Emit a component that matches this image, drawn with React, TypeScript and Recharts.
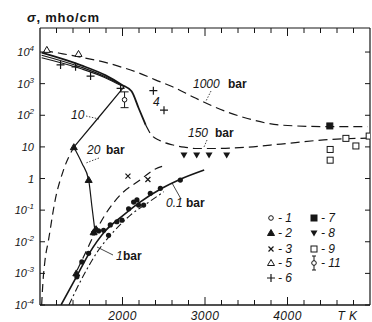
import React from "react"
import { ComposedChart, Line, Scatter, XAxis, YAxis, ErrorBar, ReferenceLine } from "recharts"

// T in K, sigma in mho/cm
const t1000bar = [1050, 1225, 1507, 1791, 1993, 2195, 2398, 2600, 2884, 3110, 3515, 3919, 4444, 4970]
const s1000bar = [11200, 9300, 6800, 4700, 3300, 2200, 1320, 810, 350, 186, 79, 49, 44, 44]

const t150bar = [1020, 1500, 1790, 1990, 2110, 2195, 2280]
const s150bar = [9550, 3800, 1860, 930, 575, 170, 50]
const t150barHot = [2280, 2350, 2450, 2600, 2750, 2900, 3100, 3300, 3520, 3920, 4440, 4970]
const s150barHot = [50, 24, 16, 11.7, 9.8, 8.9, 8.9, 9.1, 9.8, 12.3, 16.6, 19]

const tUpper10 = [1020, 1500, 1790, 1990, 2020]
const sUpper10 = [7940, 3310, 1660, 890, 800]
const t10bar = [2020, 1710, 1410]
const s10bar = [800, 85, 9.8]
const tUpper20 = [1020, 1500, 1790, 1990]
const sUpper20 = [6600, 2950, 1550, 850]

const t20barCold = [1020, 1035, 1060, 1103, 1184, 1285, 1410]
const s20barCold = [0.0001, 0.0005, 0.0025, 0.0112, 0.209, 1.86, 9.8]
const t20barDrop = [1410, 1510, 1590, 1630, 1670]
const s20barDrop = [9.8, 3.0, 0.89, 0.126, 0.018]

const t01bar = [1255, 1443, 1589, 1791, 1993, 2195, 2478, 2701, 2990]
const s01bar = [0.0001, 0.00079, 0.004, 0.022, 0.063, 0.166, 0.49, 0.95, 1.86]
const tDashUp = [1450, 1560, 1670, 1800, 1993, 2195, 2398, 2500]
const sDashUp = [0.00126, 0.005, 0.02, 0.079, 0.34, 0.83, 2.0, 2.5]
const t1bar = [1350, 1500, 1700, 1900, 2100, 2300, 2500]
const s1bar = [0.0001, 0.00063, 0.005, 0.022, 0.071, 0.166, 0.38]

// measured points
const tDots = [1447, 1507, 1589, 1649, 1710, 1771, 1831, 1852, 1932, 1993, 2074, 2135, 2175, 2195, 2256, 2337, 2459, 2701]
const sDots = [0.00078, 0.0023, 0.0043, 0.019, 0.022, 0.023, 0.016, 0.034, 0.043, 0.048, 0.11, 0.18, 0.21, 0.145, 0.145, 0.34, 0.49, 0.89]
const tSym2 = [1410, 1590, 1650, 1680, 1440]
const sSym2 = [9.8, 0.9, 0.02, 0.025, 0.001]
const tSym3 = [2066, 2308]
const sSym3 = [1.19, 0.93]
const tSym5 = [1083, 1467]
const sSym5 = [11700, 8700]
const tSym6 = [1249, 1431, 1613, 1977, 2374, 2503]
const sSym6 = [3900, 3400, 1740, 710, 600, 145]
const tSym7 = [4513]
const sSym7 = [46]
const tSym8 = [2745, 2899, 3049, 3263]
const sSym8 = [5.5, 5.5, 5.5, 5.5]
const tSym9 = [4517, 4517, 4708, 4829, 4990]
const sSym9 = [8.3, 3.8, 18.6, 10.7, 22]
const tSym11 = [2025]
const sSym11 = [310]
const errSym11 = [[136, 240]]

const xTicks = [1200, 1400, 1600, 1800, 2000, 2200, 2400, 2600, 2800, 3000, 3200, 3400, 3600, 3800, 4000, 4200, 4400, 4600, 4800]
const xLabels: Record<number, string> = { 2000: "2000", 3000: "3000", 4000: "4000", 4800: "T K" }
const yTicks = [1e-4, 1e-3, 1e-2, 1e-1, 1, 10, 100, 1e3, 1e4]
const Y_MAX = 10 ** 4.76

const pts = (t: number[], s: number[]) => t.map((v, i) => ({ t: v, s: s[i] }))

const INK = "#161616"
const FONT = "'Liberation Sans', Arial, sans-serif"
const W = 372
const H = 322
const PL = 40
const PR = 370
const PT = 28
const PB = 305

function XTick(props: any) {
  const { x, payload } = props
  const v = payload.value
  const len = v % 1000 === 0 ? 8 : 5
  const label = xLabels[v]
  return (
    <g>
      <line x1={x} x2={x} y1={PB} y2={PB - len} stroke={INK} />
      <line x1={x} x2={x} y1={PT} y2={PT + len} stroke={INK} />
      {label && (
        <text x={v === 4800 ? x - 6 : x} y={PB + 15} textAnchor="middle" fontSize={12}
          fontStyle="italic" fontFamily={FONT} fill={INK} letterSpacing={0.5}>
          {label}
        </text>
      )}
    </g>
  )
}

function YTick(props: any) {
  const { x, y, payload } = props
  const e = Math.round(Math.log10(payload.value))
  return (
    <g>
      <line x1={PL} x2={PL + 5} y1={y} y2={y} stroke={INK} />
      <line x1={PR} x2={PR - 5} y1={y} y2={y} stroke={INK} />
      <text x={x} y={y + 4} textAnchor="end" fontSize={11} fontStyle="italic" fontFamily={FONT} fill={INK}>
        {e === 0 ? "1" : e === 1 ? "10" : (
          <>
            <tspan>10</tspan>
            <tspan dy={-5} fontSize={8}>{e < 0 ? "-" + -e : e}</tspan>
          </>
        )}
      </text>
    </g>
  )
}

// marker shapes
const Dot = ({ cx, cy }: any) => <circle cx={cx} cy={cy} r={2.6} fill={INK} />
const OCircle = ({ cx, cy }: any) => <circle cx={cx} cy={cy} r={2.3} fill="#fff" stroke={INK} strokeWidth={1} />
const TriUp = ({ cx, cy, open }: any) => (
  <path d={`M${cx},${cy - 3.5}L${cx + 3.5},${cy + 2.5}L${cx - 3.5},${cy + 2.5}Z`}
    fill={open ? "#fff" : INK} stroke={INK} strokeWidth={1} />
)
const TriDown = ({ cx, cy }: any) => (
  <path d={`M${cx},${cy + 3.5}L${cx + 3.5},${cy - 2.5}L${cx - 3.5},${cy - 2.5}Z`} fill={INK} />
)
const XMark = ({ cx, cy }: any) => (
  <path d={`M${cx - 2.5},${cy - 2.5}L${cx + 2.5},${cy + 2.5}M${cx + 2.5},${cy - 2.5}L${cx - 2.5},${cy + 2.5}`} stroke={INK} strokeWidth={1.2} />
)
const Plus = ({ cx, cy }: any) => (
  <path d={`M${cx - 4},${cy}L${cx + 4},${cy}M${cx},${cy - 4}L${cx},${cy + 4}`} stroke={INK} strokeWidth={1.2} />
)
const Sq = ({ cx, cy, open }: any) => (
  <rect x={cx - 3} y={cy - 3} width={6} height={6} fill={open ? "#fff" : INK} stroke={INK} strokeWidth={1} />
)

const solid = { stroke: INK, dot: false, isAnimationActive: false, xAxisId: "x", yAxisId: "y" } as const

function Overlay() {
  const lead = { stroke: INK, strokeWidth: 0.8, strokeDasharray: "1.5 1.5" }
  const bold = { fontSize: 12, fontWeight: 700, fontFamily: FONT, fill: INK }
  const ital = { fontSize: 12, fontStyle: "italic", fontFamily: FONT, fill: INK }
  const rows = [218, 233, 249, 263, 278]
  return (
    <svg width={W} height={H} style={{ position: "absolute", left: 0, top: 0, pointerEvents: "none" }}>
      <text x={27} y={22} fontSize={13} fontWeight={700} fontFamily={FONT} fill={INK} letterSpacing={0.8}>
        <tspan fontStyle="italic">σ</tspan>, mho/cm
      </text>
      <text x={193} y={88} {...ital}>1000</text>
      <text x={228} y={88} {...bold}>bar</text>
      <line x1={211} y1={91} x2={206} y2={101} {...lead} />
      <text x={188} y={137} {...ital}>150</text>
      <text x={215} y={137} {...bold}>bar</text>
      <line x1={207} y1={140} x2={204} y2={147} {...lead} />
      <text x={71} y={119} {...ital}>10</text>
      <line x1={86} y1={116} x2={99} y2={119} {...lead} />
      <text x={87} y={154} {...ital}>20</text>
      <text x={106} y={154} {...bold}>bar</text>
      <line x1={99} y1={158} x2={86} y2={163} {...lead} />
      <text x={116} y={260} {...ital}>1</text>
      <text x={123} y={260} {...bold}>bar</text>
      <line x1={113} y1={255} x2={97} y2={247} stroke={INK} strokeWidth={0.8} />
      <text x={166} y={207} {...ital}>0.1</text>
      <text x={186} y={207} {...bold}>bar</text>
      <line x1={181} y1={199} x2={172} y2={183} stroke={INK} strokeWidth={0.8} />
      <text x={153} y={106} {...ital}>4</text>
      {/* legend */}
      <OCircle cx={271} cy={rows[0]} />
      <text x={278} y={rows[0] + 4} {...ital}>- 1</text>
      <TriUp cx={271} cy={rows[1]} />
      <text x={278} y={rows[1] + 4} {...ital}>- 2</text>
      <XMark cx={271} cy={rows[2]} />
      <text x={278} y={rows[2] + 4} {...ital}>- 3</text>
      <TriUp cx={271} cy={rows[3]} open />
      <text x={278} y={rows[3] + 4} {...ital}>- 5</text>
      <Plus cx={271} cy={rows[4]} />
      <text x={278} y={rows[4] + 4} {...ital}>- 6</text>
      <Sq cx={314} cy={rows[0]} />
      <text x={321} y={rows[0] + 4} {...ital}>- 7</text>
      <TriDown cx={314} cy={rows[1]} />
      <text x={321} y={rows[1] + 4} {...ital}>- 8</text>
      <Sq cx={314} cy={rows[2]} open />
      <text x={321} y={rows[2] + 4} {...ital}>- 9</text>
      <line x1={314} x2={314} y1={rows[3] - 7} y2={rows[3] + 7} stroke={INK} />
      <line x1={312} x2={316} y1={rows[3] - 7} y2={rows[3] - 7} stroke={INK} />
      <line x1={312} x2={316} y1={rows[3] + 7} y2={rows[3] + 7} stroke={INK} />
      <OCircle cx={314} cy={rows[3]} />
      <text x={321} y={rows[3] + 4} {...ital}>- 11</text>
    </svg>
  )
}

export default function App() {
  const sym11 = tSym11.map((t, i) => ({ t, s: sSym11[i], err: errSym11[i] }))
  return (
    <div style={{ position: "absolute", left: 0, top: 0, width: W, height: H, background: "#fff" }}>
      <ComposedChart width={W} height={H} margin={{ top: PT, right: W - PR, bottom: 0, left: 0 }}>
        <XAxis xAxisId="x" type="number" dataKey="t" domain={[1000, 5000]} ticks={xTicks}
          allowDataOverflow height={H - PB} tickSize={0} tickMargin={0} tickLine={false}
          axisLine={{ stroke: INK, strokeWidth: 1.3 }} tick={<XTick />} interval={0} />
        <YAxis yAxisId="y" type="number" dataKey="s" scale="log" domain={[1e-4, Y_MAX]} ticks={yTicks}
          allowDataOverflow width={PL} tickSize={0} tickMargin={6} tickLine={false}
          axisLine={{ stroke: INK, strokeWidth: 1.3 }} tick={<YTick />} interval={0} />
        <ReferenceLine xAxisId="x" yAxisId="y" y={Y_MAX} stroke={INK} strokeWidth={1.2} />
        <ReferenceLine xAxisId="x" yAxisId="y" x={5000} stroke={INK} strokeWidth={1.2} />

        <Line {...solid} data={pts(t1000bar, s1000bar)} dataKey="s" type="monotone" strokeWidth={1.2} strokeDasharray="9 5" />
        <Line {...solid} data={pts(t150bar, s150bar)} dataKey="s" type="monotone" strokeWidth={1.8} />
        <Line {...solid} data={pts(t150barHot, s150barHot)} dataKey="s" type="monotone" strokeWidth={1.2} strokeDasharray="9 5" />
        <Line {...solid} data={pts(tUpper10, sUpper10)} dataKey="s" type="monotone" strokeWidth={1.2} />
        <Line {...solid} data={pts(t10bar, s10bar)} dataKey="s" type="linear" strokeWidth={1.2} />
        <Line {...solid} data={pts(tUpper20, sUpper20)} dataKey="s" type="monotone" strokeWidth={1.1} />
        <Line {...solid} data={pts(t20barCold, s20barCold)} dataKey="s" type="monotone" strokeWidth={1.2} strokeDasharray="8 5" />
        <Line {...solid} data={pts(t20barDrop, s20barDrop)} dataKey="s" type="monotone" strokeWidth={1.2} />
        <Line {...solid} data={pts(t01bar, s01bar)} dataKey="s" type="monotone" strokeWidth={1.6} />
        <Line {...solid} data={pts(tDashUp, sDashUp)} dataKey="s" type="monotone" strokeWidth={1.2} strokeDasharray="8 5" />
        <Line {...solid} data={pts(t1bar, s1bar)} dataKey="s" type="monotone" strokeWidth={1.1} strokeDasharray="7 3 2 3" />

        <Scatter xAxisId="x" yAxisId="y" data={pts(tDots, sDots)} shape={<Dot />} isAnimationActive={false} />
        <Scatter xAxisId="x" yAxisId="y" data={pts(tSym2, sSym2)} shape={<TriUp />} isAnimationActive={false} />
        <Scatter xAxisId="x" yAxisId="y" data={pts(tSym3, sSym3)} shape={<XMark />} isAnimationActive={false} />
        <Scatter xAxisId="x" yAxisId="y" data={pts(tSym5, sSym5)} shape={<TriUp open />} isAnimationActive={false} />
        <Scatter xAxisId="x" yAxisId="y" data={pts(tSym6, sSym6)} shape={<Plus />} isAnimationActive={false} />
        <Scatter xAxisId="x" yAxisId="y" data={pts(tSym7, sSym7)} shape={<Sq />} isAnimationActive={false} />
        <Scatter xAxisId="x" yAxisId="y" data={pts(tSym8, sSym8)} shape={<TriDown />} isAnimationActive={false} />
        <Scatter xAxisId="x" yAxisId="y" data={pts(tSym9, sSym9)} shape={<Sq open />} isAnimationActive={false} />
        <Scatter xAxisId="x" yAxisId="y" data={sym11} shape={<OCircle />} isAnimationActive={false}>
          <ErrorBar dataKey="err" direction="y" width={4} stroke={INK} strokeWidth={1} />
        </Scatter>
      </ComposedChart>
      <Overlay />
    </div>
  )
}
